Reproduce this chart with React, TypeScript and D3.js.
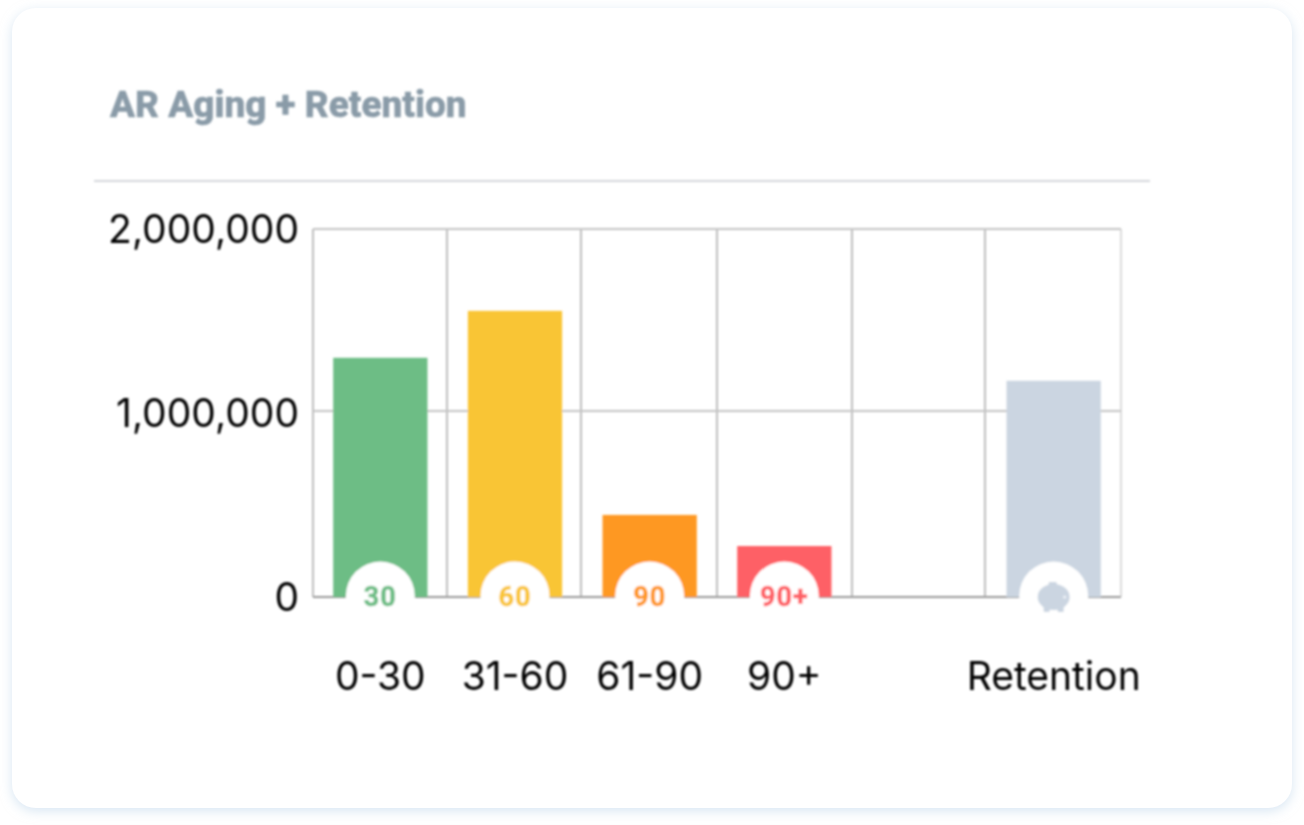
import React from "react";
import * as d3 from "d3";

const categories = ["0-30", "31-60", "61-90", "90+", "", "Retention"];
const values = [1300000, 1555000, 446000, 277000, 0, 1175000];
const badges = ["30", "60", "90", "90+", "", "pig"];
const colors = ["#6dbd85", "#f9c535", "#fe9822", "#fe6166", "#cccccc", "#cbd5e1"];
const yTicks = [0, 1000000, 2000000];
const gridX = [313, 447, 581, 717, 852, 985, 1121];

const W = 1304, H = 825;
const left = 313, right = 1121, top = 229, bottom = 597;
const x = d3.scaleBand<string>().domain(categories.map((c, i) => i + c)).range([left, right]).paddingInner(0.3).paddingOuter(0.15);
const y = d3.scaleLinear().domain([0, 2000000]).range([bottom, top]);
const fmt = d3.format(",");
const FONT = "Inter, 'Liberation Sans', sans-serif";

function Pig({ cx, cy, fill }: { cx: number; cy: number; fill: string }) {
  return (
    <g transform={`translate(${cx},${cy})`} fill={fill}>
      <ellipse cx={0} cy={0} rx={16} ry={13} />
      <rect x={-10} y={8} width={6} height={7} rx={1} />
      <rect x={4} y={8} width={6} height={7} rx={1} />
      <rect x={-5} y={-15} width={8} height={5} rx={1} />
      <circle cx={11} cy={0} r={1.6} fill="#eef2f7" />
    </g>
  );
}

export default function App() {
  return (
    <svg width={W} height={H} style={{ position: "absolute", left: 0, top: 0, background: "#ffffff" }}>
      <defs>
        <filter id="shadow" x="-5%" y="-5%" width="110%" height="110%">
          <feDropShadow dx={0} dy={3} stdDeviation={6} floodColor="#bcd4ea" floodOpacity={0.6} />
        </filter>
        <filter id="soft" x="-2%" y="-2%" width="104%" height="104%">
          <feGaussianBlur stdDeviation={0.85} />
        </filter>
      </defs>
      <rect x={12} y={8} width={1280} height={800} rx={24} fill="#fff" filter="url(#shadow)" />
      <g filter="url(#soft)">
        <text x={110} y={117} fontFamily="Roboto, sans-serif" fontWeight={800} fontSize={37} fill="#8a9ba8" stroke="#8a9ba8" strokeWidth={0.5}>AR Aging + Retention</text>
        <line x1={94} x2={1150} y1={181} y2={181} stroke="#d4d7dc" strokeWidth={2} />

        {gridX.map((gx, i) => (
          <line key={i} x1={gx} x2={gx} y1={top} y2={bottom} stroke={i === gridX.length - 1 ? "#dcdcdc" : "#bdbdbd"} strokeWidth={2} />
        ))}
        {yTicks.map((t) => (
          <line key={t} x1={left} x2={right} y1={t === 1000000 ? y(t) - 2 : y(t)} y2={t === 1000000 ? y(t) - 2 : y(t)} stroke={t === 0 ? "#999999" : "#c4c4c4"} strokeWidth={2} />
        ))}

        {categories.map((c, i) => {
          const key = i + c;
          const bx = x(key)!;
          if (!values[i]) return null;
          return <rect key={key} x={bx} y={y(values[i])} width={x.bandwidth()} height={bottom - y(values[i])} fill={colors[i]} />;
        })}

        {categories.map((c, i) => {
          const key = i + c;
          if (!badges[i]) return null;
          const cx = x(key)! + x.bandwidth() / 2;
          return (
            <g key={key}>
              <circle cx={cx} cy={bottom - 1} r={34.5} fill="#fff" />
              {badges[i] === "pig" ? (
                <Pig cx={cx} cy={bottom} fill={colors[i]} />
              ) : (
                <text x={cx} y={bottom + 9} textAnchor="middle" fontFamily="Roboto, sans-serif" fontWeight={700} fontSize={27} letterSpacing={1} fill={colors[i]} stroke={colors[i]} strokeWidth={0.5}>{badges[i]}</text>
              )}
            </g>
          );
        })}

        {yTicks.map((t) => (
          <text key={t} x={299} y={y(t) + 14} textAnchor="end" fontFamily={FONT} fontSize={39} fill="#000">{fmt(t)}</text>
        ))}
        {categories.map((c, i) => (
          <text key={i + c} x={x(i + c)! + x.bandwidth() / 2} y={690} textAnchor="middle" fontFamily={FONT} fontSize={39} fill="#000">{c}</text>
        ))}
      </g>
    </svg>
  );
}
